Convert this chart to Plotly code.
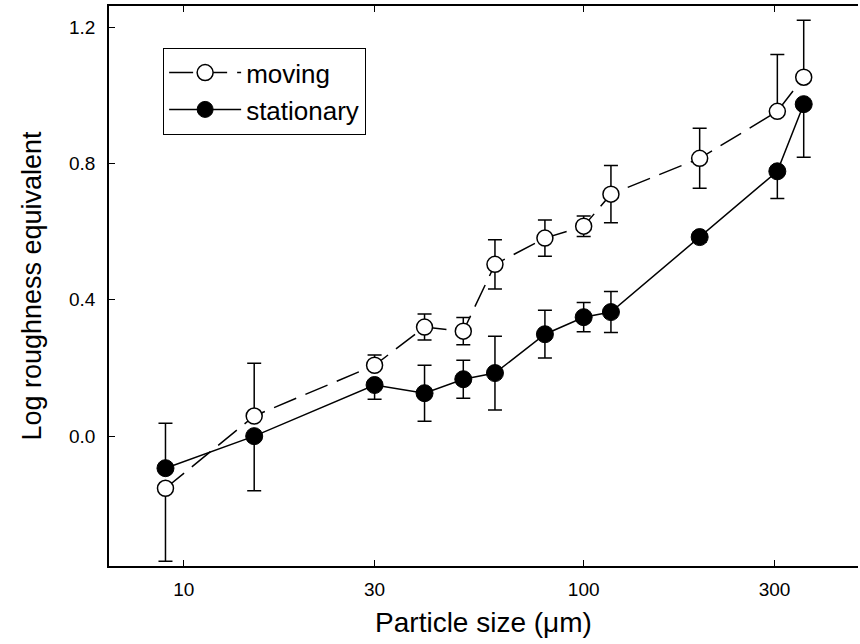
import plotly.graph_objects as go

# Data
particle_size = [9, 15, 30, 40, 50, 60, 80, 100, 117, 195, 305, 355]

moving = [-0.153, 0.059, 0.208, 0.320, 0.308, 0.504, 0.581, 0.616, 0.710, 0.815, 0.953, 1.053]
moving_err_plus = [0, 0.155, 0.030, 0.038, 0.040, 0.072, 0.053, 0.030, 0.084, 0.088, 0.167, 0.167]
moving_err_minus = [0.214, 0, 0, 0.038, 0.040, 0.072, 0.053, 0.030, 0.084, 0.088, 0, 0]

stationary = [-0.094, 0.000, 0.150, 0.126, 0.167, 0.185, 0.299, 0.349, 0.364, 0.584, 0.777, 0.974]
stationary_err_plus = [0.132, 0, 0, 0.082, 0.056, 0.108, 0.070, 0.043, 0.060, 0.015, 0, 0]
stationary_err_minus = [0, 0.160, 0.042, 0.082, 0.056, 0.108, 0.070, 0.043, 0.060, 0.015, 0.080, 0.156]

x_tickvals = [10, 30, 100, 300]
x_ticktext = ["10", "30", "100", "300"]
y_tickvals = [0.0, 0.4, 0.8, 1.2]

FONT = "Liberation Sans, Arial, Helvetica, sans-serif"

fig = go.Figure()

fig.add_trace(go.Scatter(
    x=particle_size, y=moving, name="moving", mode="lines+markers",
    line=dict(color="black", width=1.5, dash="24px,10px"),
    marker=dict(symbol="circle", size=16, color="white",
                line=dict(color="black", width=1.5)),
    error_y=dict(type="data", symmetric=False, array=moving_err_plus,
                 arrayminus=moving_err_minus, color="black", thickness=1.5, width=7),
))

fig.add_trace(go.Scatter(
    x=particle_size, y=stationary, name="stationary", mode="lines+markers",
    line=dict(color="black", width=1.5),
    marker=dict(symbol="circle", size=17, color="black",
                line=dict(color="black", width=1)),
    error_y=dict(type="data", symmetric=False, array=stationary_err_plus,
                 arrayminus=stationary_err_minus, color="black", thickness=1.5, width=7),
))

fig.update_layout(
    width=860, height=644,
    margin=dict(l=109, r=2, t=6, b=78),
    paper_bgcolor="white", plot_bgcolor="white",
    font=dict(family=FONT, color="black", size=19),
    showlegend=True,
    legend=dict(
        x=0.072, y=0.925, xanchor="left", yanchor="top",
        bordercolor="black", borderwidth=1.2, bgcolor="white",
        font=dict(size=26, family=FONT),
        itemwidth=72, tracegroupgap=0,
    ),
    xaxis=dict(
        type="log", range=[0.813, 2.686],
        tickvals=x_tickvals, ticktext=x_ticktext,
        ticks="inside", ticklen=6, tickwidth=1.2, tickcolor="black",
        showline=True, linecolor="black", linewidth=1.5, mirror="ticks",
        showgrid=False, zeroline=False,
        tickfont=dict(size=19), ticklabelstandoff=5,
        title=dict(text="Particle size (μm)", font=dict(size=28), standoff=14),
    ),
    yaxis=dict(
        range=[-0.381, 1.262],
        tickvals=y_tickvals, tickformat=".1f",
        ticks="inside", ticklen=6, tickwidth=1.2, tickcolor="black",
        showline=True, linecolor="black", linewidth=1.5, mirror=False,
        showgrid=False, zeroline=False,
        tickfont=dict(size=19), ticklabelstandoff=8,
        title=dict(text="Log roughness equivalent", font=dict(size=27), standoff=20),
    ),
)

fig.write_html("out.html")
